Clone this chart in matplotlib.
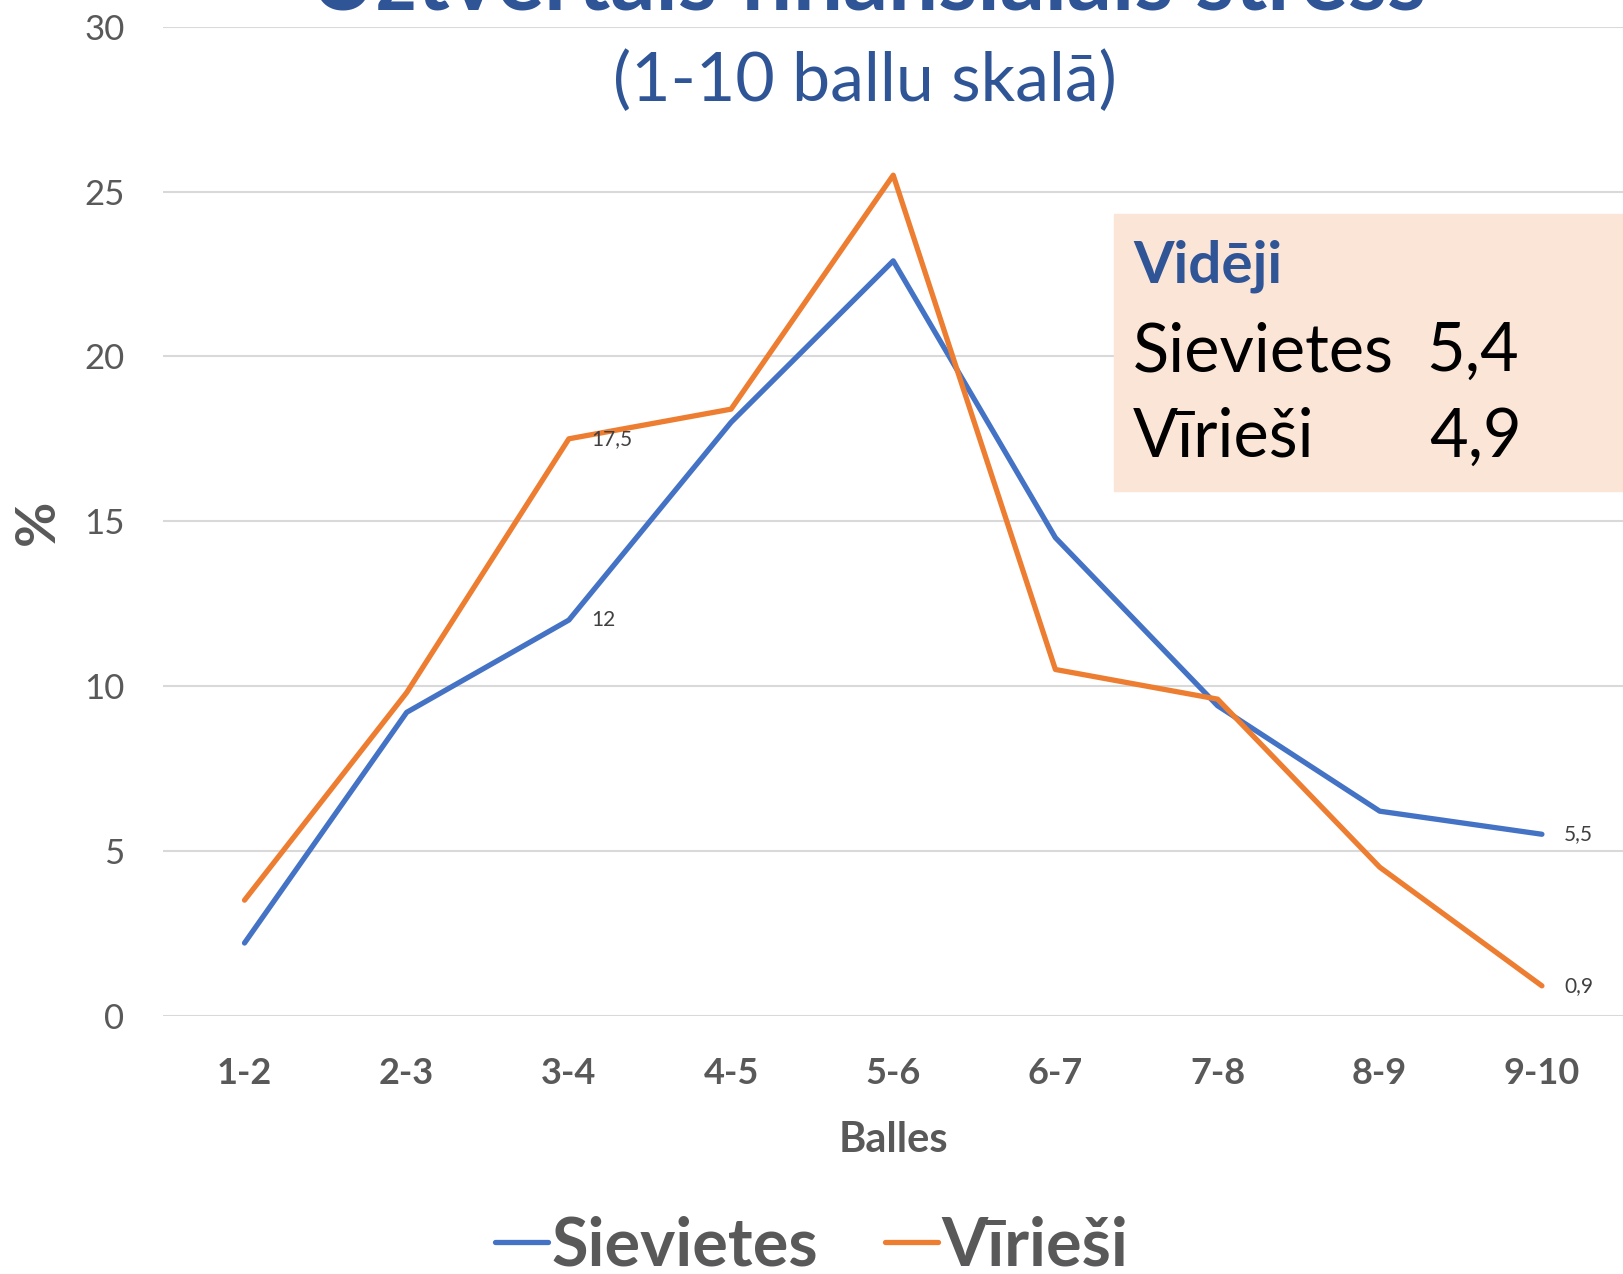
import matplotlib.pyplot as plt
import numpy as np

plt.rcParams['font.family'] = ['Lato', 'DejaVu Sans']

categories = ['1-2', '2-3', '3-4', '4-5', '5-6', '6-7', '7-8', '8-9', '9-10']
sievietes = [2.2, 9.2, 12.0, 18.0, 22.9, 14.5, 9.4, 6.2, 5.5]
viriesi = [3.5, 9.8, 17.5, 18.4, 25.5, 10.5, 9.6, 4.5, 0.9]
avg_labels = ['Sievietes', 'Vīrieši']
avg_values = ['5,4', '4,9']

blue = '#4472C4'
orange = '#ED7D31'
gray = '#595959'
title_blue = '#2F5597'

fig = plt.figure(figsize=(16.23, 12.74), dpi=100)
ax = fig.add_axes([0.1007, 0.2029, 0.8993, 0.776])

x = np.arange(len(categories))
ax.plot(x, sievietes, color=blue, lw=3.8, label='Sievietes', solid_capstyle='round', zorder=3)
ax.plot(x, viriesi, color=orange, lw=3.8, label='Vīrieši', solid_capstyle='round', zorder=3)

# data labels only on a few points
for i in [2, 8]:
    ax.annotate(f'{sievietes[i]:g}'.replace('.', ','), (x[i], sievietes[i]),
                xytext=(16, 0), textcoords='offset points', va='center',
                fontsize=15, color='#404040')
    ax.annotate(f'{viriesi[i]:g}'.replace('.', ','), (x[i], viriesi[i]),
                xytext=(16, 0), textcoords='offset points', va='center',
                fontsize=15, color='#404040')

ax.set_xlim(-0.5, 8.5)
ax.set_ylim(0, 30)
ax.set_yticks(np.arange(0, 31, 5))
ax.set_xticks(x)
ax.set_xticklabels(categories, fontweight='bold')
ax.tick_params(axis='y', length=0, pad=28, labelsize=25, labelcolor=gray)
ax.tick_params(axis='x', length=0, pad=30, labelsize=26, labelcolor=gray)
ax.grid(axis='y', color='#D9D9D9', lw=1.5)
ax.set_axisbelow(True)
for s in ax.spines.values():
    s.set_visible(False)

ax.set_xlabel('Balles', fontsize=30, fontweight='bold', color=gray, labelpad=22)
fig.text(38 / 1623, 1 - 522 / 1274, '%', rotation=90, fontsize=40, fontweight='bold',
         color=gray, ha='center', va='center')

# title, partly cut off at the top
fig.text(0.535, 1 - 9 / 1274, 'Uztvertais finansiālais stress', fontsize=64,
         fontweight='bold', color=title_blue, ha='center', va='baseline')
fig.text(0.533, 1 - 82 / 1274, '(1-10 ballu skalā)', fontsize=49,
         color=title_blue, ha='center', va='center')

# averages box
box = plt.Rectangle((1114 / 1623, 1 - 491 / 1274), 1 - 1114 / 1623, (491 - 214) / 1274,
                    transform=fig.transFigure, color='#FBE5D6', zorder=5)
fig.patches.append(box)
fig.text(1133 / 1623, 1 - 266 / 1274, 'Vidēji', fontsize=42, fontweight='bold',
         color=title_blue, va='center', zorder=6)
for k, (lab, val) in enumerate(zip(avg_labels, avg_values)):
    yy = 1 - (352 + 86 * k) / 1274
    fig.text(1133 / 1623, yy, lab, fontsize=48, color='black', va='center', zorder=6)
    fig.text((1426 + 3 * k) / 1623, yy, val, fontsize=48, color='black', va='center', zorder=6)

leg = fig.legend(loc='center', bbox_to_anchor=(0.5, 1 - 1246 / 1274), ncol=2,
                 frameon=False, fontsize=48, handlelength=0.8, handletextpad=0.05,
                 columnspacing=1.0)
for t in leg.get_texts():
    t.set_color(gray)
    t.set_fontweight('bold')

fig.savefig('out.png', dpi=100)
